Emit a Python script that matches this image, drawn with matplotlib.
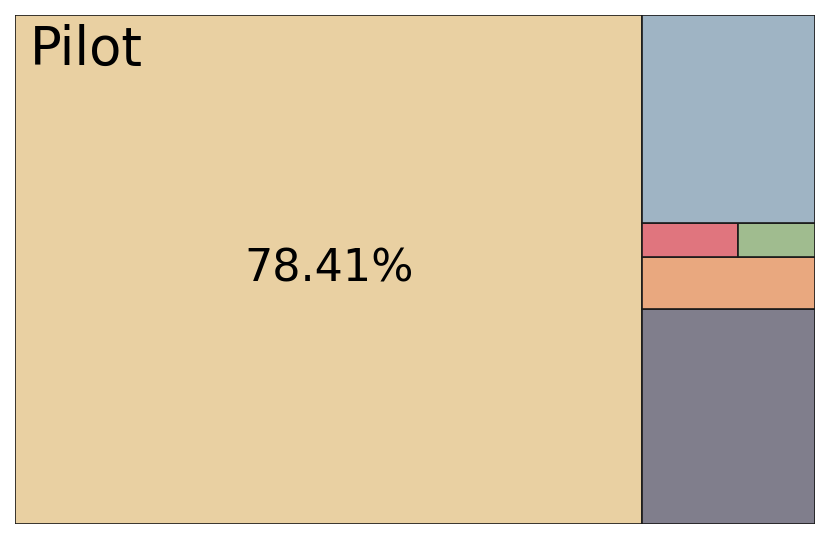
import matplotlib
matplotlib.use("Agg")
import matplotlib.pyplot as plt
from matplotlib.patches import Rectangle

labels = ["Pilot", "B", "C", "D", "E", "F"]
values = [78.41, 9.12, 2.21, 0.80, 0.64, 8.82]
colors = ["#E9D0A2", "#807E8C", "#E9A87F", "#E0757E", "#A0BC8F", "#9FB4C4"]


def normalize(sizes, dx, dy):
    total = sum(sizes)
    return [s * dx * dy / total for s in sizes]


def layoutrow(sizes, x, y, dx, dy):
    width = sum(sizes) / dy
    rects = []
    for s in sizes:
        rects.append((x, y, width, s / width))
        y += s / width
    return rects


def layoutcol(sizes, x, y, dx, dy):
    height = sum(sizes) / dx
    rects = []
    for s in sizes:
        rects.append((x, y, s / height, height))
        x += s / height
    return rects


def layout(sizes, x, y, dx, dy):
    return layoutrow(sizes, x, y, dx, dy) if dx >= dy else layoutcol(sizes, x, y, dx, dy)


def leftover(sizes, x, y, dx, dy):
    if dx >= dy:
        w = sum(sizes) / dy
        return x + w, y, dx - w, dy
    h = sum(sizes) / dx
    return x, y + h, dx, dy - h


def worst(sizes, x, y, dx, dy):
    return max(max(r[2] / r[3], r[3] / r[2]) for r in layout(sizes, x, y, dx, dy))


def squarify(sizes, x, y, dx, dy):
    if not sizes:
        return []
    if len(sizes) == 1:
        return layout(sizes, x, y, dx, dy)
    i = 1
    while i < len(sizes) and worst(sizes[:i], x, y, dx, dy) >= worst(sizes[:i + 1], x, y, dx, dy):
        i += 1
    cur, rem = sizes[:i], sizes[i:]
    lx, ly, ldx, ldy = leftover(cur, x, y, dx, dy)
    return layout(cur, x, y, dx, dy) + squarify(rem, lx, ly, ldx, ldy)


fig = plt.figure(figsize=(8.3, 5.4), dpi=100)
ax = fig.add_axes([15 / 830, 16 / 540, 800 / 830, 509 / 540])
rects = squarify(normalize(values, 100, 100), 0, 0, 100, 100)
for (rx, ry, rw, rh), c in zip(rects, colors):
    ax.add_patch(Rectangle((rx, ry), rw, rh, facecolor=c, edgecolor="#1a1a1a", linewidth=1.2))

rx, ry, rw, rh = rects[0]
ax.text(rx + rw / 2, ry + rh / 2, f"{values[0]:.2f}%", ha="center", va="center", fontsize=32)
ax.text(rx + 1.9, ry + rh - 1.8, labels[0], ha="left", va="top", fontsize=38)

ax.set_xlim(0, 100)
ax.set_ylim(0, 100)
ax.axis("off")
fig.savefig("out.png", dpi=100)
